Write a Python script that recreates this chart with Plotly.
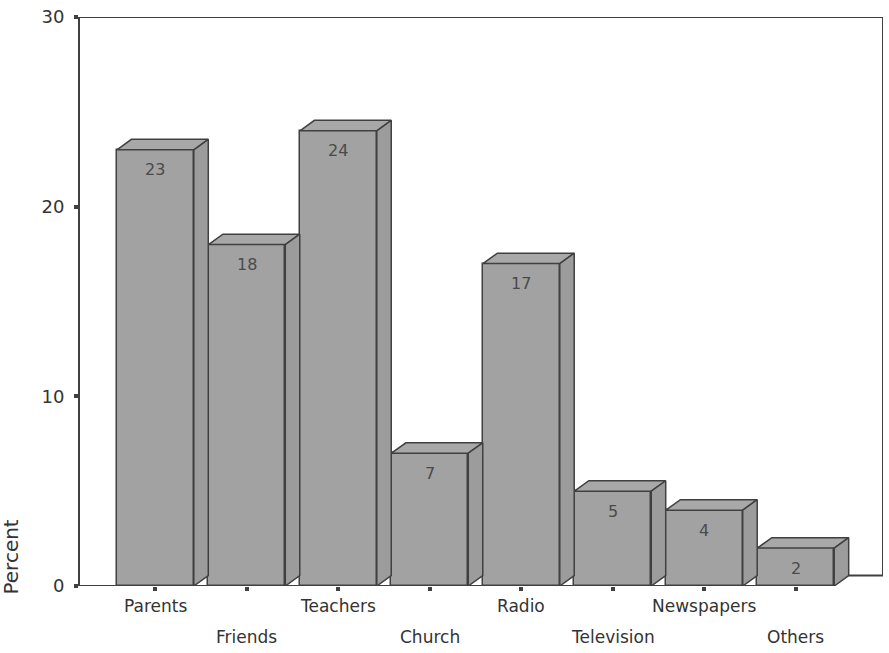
import plotly.graph_objects as go

# Sources of information (percent of respondents)
categories = ["Parents", "Friends", "Teachers", "Church", "Radio",
              "Television", "Newspapers", "Others"]
percent = [23, 18, 24, 7, 17, 5, 4, 2]
y_ticks = [0, 10, 20, 30]

positions = list(range(len(categories)))

# pseudo-3D geometry (in axis units)
BAR_W = 0.84      # front face width
DX = 0.158        # depth offset along x
DY = 0.55         # depth offset along y
X_MIN, X_MAX = -0.824, 7.953

FACE = "#a2a2a2"
TOP = "#a8a8a8"
SIDE = "#9c9c9c"
EDGE = "#404040"
TEXT = "#333333"
FONT = "DejaVu Sans"

fig = go.Figure()

# front faces
fig.add_trace(go.Bar(
    x=positions, y=percent, width=BAR_W,
    marker=dict(color=FACE, line=dict(color=EDGE, width=1.5)),
    hoverinfo="skip", showlegend=False,
))

# top and side faces of each box
for x, v in zip(positions, percent):
    l, r = x - BAR_W / 2, x + BAR_W / 2
    fig.add_trace(go.Scatter(
        x=[l, l + DX, r + DX, r, l], y=[v, v + DY, v + DY, v, v],
        mode="lines", fill="toself", fillcolor=TOP,
        line=dict(color=EDGE, width=1.5), hoverinfo="skip", showlegend=False,
    ))
    fig.add_trace(go.Scatter(
        x=[r, r + DX, r + DX, r, r], y=[0, DY, v + DY, v, 0],
        mode="lines", fill="toself", fillcolor=SIDE,
        line=dict(color=EDGE, width=1.5), hoverinfo="skip", showlegend=False,
    ))

annotations = []
# value labels on the front faces
for x, v in zip(positions, percent):
    annotations.append(dict(
        x=x, y=v, xref="x", yref="y", text=str(v), showarrow=False,
        yanchor="middle", yshift=-20,
        font=dict(family=FONT, size=16, color="#4a4a4a"),
    ))
# category labels on two staggered rows
for i, (x, name) in enumerate(zip(positions, categories)):
    annotations.append(dict(
        x=x, y=0, xref="x", yref="y", text=name, showarrow=False,
        yanchor="middle", yshift=-20 if i % 2 == 0 else -51,
        font=dict(family=FONT, size=17, color=TEXT),
    ))
# axis title
annotations.append(dict(
    x=0, y=1.5, xref="paper", yref="y", text="Percent", showarrow=False,
    textangle=-90, xanchor="center", yanchor="middle", xshift=-69,
    font=dict(family=FONT, size=20, color=TEXT),
))

last_right = positions[-1] + BAR_W / 2
frame = dict(type="line", xref="x", yref="y", line=dict(color=EDGE, width=2), layer="below")
shapes = [
    dict(frame, x0=X_MIN, y0=0, x1=last_right, y1=0),                 # front floor edge
    dict(frame, x0=last_right + DX, y0=DY, x1=X_MAX, y1=DY),          # back floor edge
    dict(frame, x0=X_MAX, y0=DY, x1=X_MAX, y1=30),                    # right wall
    dict(frame, x0=X_MIN, y0=30, x1=X_MAX, y1=30),                    # top edge
]

fig.update_layout(
    width=889, height=653,
    margin=dict(l=80, r=6, t=11, b=67),
    plot_bgcolor="white", paper_bgcolor="white",
    font=dict(family=FONT, color=TEXT),
    bargap=0, barmode="overlay",
    xaxis=dict(
        range=[X_MIN, X_MAX], tickvals=positions, showticklabels=False,
        ticks="outside", ticklen=4, tickwidth=4, tickcolor=EDGE,
        showgrid=False, zeroline=False, showline=False, fixedrange=True,
    ),
    yaxis=dict(
        range=[0, 30], tickvals=y_ticks, ticks="outside", ticklen=4,
        tickwidth=4, tickcolor=EDGE, showline=True, linecolor=EDGE, linewidth=2,
        showgrid=False, zeroline=False, ticklabelstandoff=6,
        tickfont=dict(family=FONT, size=18, color=TEXT), fixedrange=True,
    ),
    annotations=annotations,
    shapes=shapes,
)

fig.write_html("out.html")
